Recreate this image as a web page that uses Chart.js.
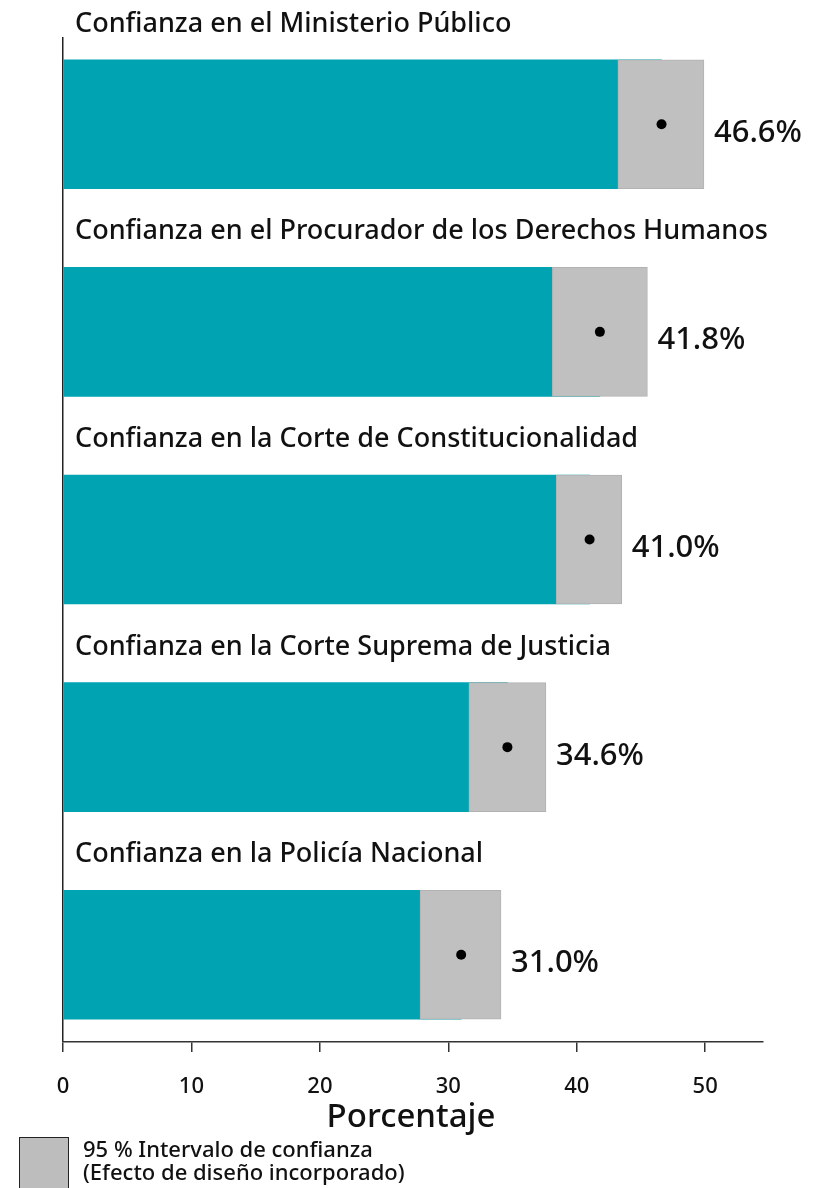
<!DOCTYPE html>
<html>
<head>
<meta charset="utf-8">
<script src="https://cdn.jsdelivr.net/npm/chart.js@4"></script>
<style>
  body { margin: 0; background: #fff; }
  canvas { display: block; }
</style>
</head>
<body>
<canvas id="Chart" width="814" height="1188"></canvas>
<script>
// data
const categories = [
    'Confianza en el Ministerio Público',
    'Confianza en el Procurador de los Derechos Humanos',
    'Confianza en la Corte de Constitucionalidad',
    'Confianza en la Corte Suprema de Justicia',
    'Confianza en la Policía Nacional'
];
const means = [46.6, 41.8, 41.0, 34.6, 31.0];
const lower = [43.2, 38.1, 38.4, 31.6, 27.8];
const upper = [49.9, 45.5, 43.5, 37.6, 34.1];
const xTicks = [0, 10, 20, 30, 40, 50];
const axisTitle = 'Porcentaje';
const legendLines = ['95 % Intervalo de confianza', '(Efecto de diseño incorporado)'];

const FONT = "'Noto Sans', 'Open Sans', sans-serif";

// titles, value labels, axis title and legend
const labelsPlugin = {
    id: 'labelsPlugin',
    afterDraw(chart) {
        const ctx = chart.ctx;
        const xs = chart.scales.x;
        const ys = chart.scales.y;
        ctx.save();
        ctx.fillStyle = '#111';
        ctx.textAlign = 'left';
        ctx.textBaseline = 'alphabetic';
        categories.forEach(function(cat, i) {
            const yc = ys.getPixelForValue(i);
            ctx.font = '500 27px ' + FONT;
            ctx.fillText(cat, 75, yc - 64.5 - 28);
            ctx.font = '500 31px ' + FONT;
            ctx.fillText(means[i].toFixed(1) + '%', xs.getPixelForValue(upper[i]) + 10, yc + 17.5);
        });

        ctx.textAlign = 'center';
        ctx.font = '500 33px ' + FONT;
        ctx.fillText(axisTitle, 411, 1127);

        // legend
        ctx.fillStyle = '#bdbdbd';
        ctx.fillRect(19, 1137, 50, 60);
        ctx.strokeStyle = '#222';
        ctx.lineWidth = 1;
        ctx.strokeRect(19.5, 1137.5, 49, 60);
        ctx.fillStyle = '#111';
        ctx.textAlign = 'left';
        ctx.font = '500 22px ' + FONT;
        ctx.fillText(legendLines[0], 83, 1157);
        ctx.fillText(legendLines[1], 83, 1180);
        ctx.restore();
    }
};

var chart = document.getElementById("Chart").getContext("2d");
const myChart = new Chart(chart, {
    type: 'bar',
    data: {
        datasets: [{
            type: 'scatter',
            label: 'Media',
            data: means.map((m, i) => ({ x: m, y: i })),
            pointRadius: 5,
            pointBackgroundColor: '#000',
            pointBorderWidth: 0,
            order: 0
        }, {
            label: 'IC 95%',
            data: lower.map((l, i) => ({ x: [l, upper[i]], y: i })),
            backgroundColor: '#c0c0c0',
            borderColor: '#b2b2b2',
            borderWidth: 1,
            borderSkipped: false,
            barThickness: 129,
            grouped: false,
            order: 1
        }, {
            label: 'Confianza',
            data: means.map((m, i) => ({ x: [0, m], y: i })),
            backgroundColor: '#00a3b1',
            borderWidth: 0,
            barThickness: 129,
            grouped: false,
            order: 2
        }]
    },
    options: {
        indexAxis: 'y',
        responsive: false,
        animation: false,
        layout: { padding: { left: 63, right: 51, top: 37, bottom: 0 } },
        plugins: {
            legend: { display: false },
            tooltip: { enabled: false }
        },
        scales: {
            y: {
                type: 'linear',
                display: false,
                reverse: true,
                offset: false,
                min: -0.42,
                max: 4.42
            },
            x: {
                type: 'linear',
                min: 0,
                max: 54.5,
                afterBuildTicks: s => { s.ticks = xTicks.map(v => ({ value: v })); },
                afterFit: s => { s.height = 146; },
                ticks: {
                    padding: 22,
                    color: '#111',
                    font: { family: FONT, size: 22, weight: 500 }
                },
                grid: {
                    tickLength: 10,
                    lineWidth: 1.5,
                    color: ctx => (ctx.tick && ctx.tick.value === 0) ? '#222' : 'rgba(0,0,0,0)',
                    tickColor: '#333'
                },
                border: { display: true, color: '#333', width: 1.5 }
            }
        }
    },
    plugins: [labelsPlugin]
});
</script>
</body>
</html>
